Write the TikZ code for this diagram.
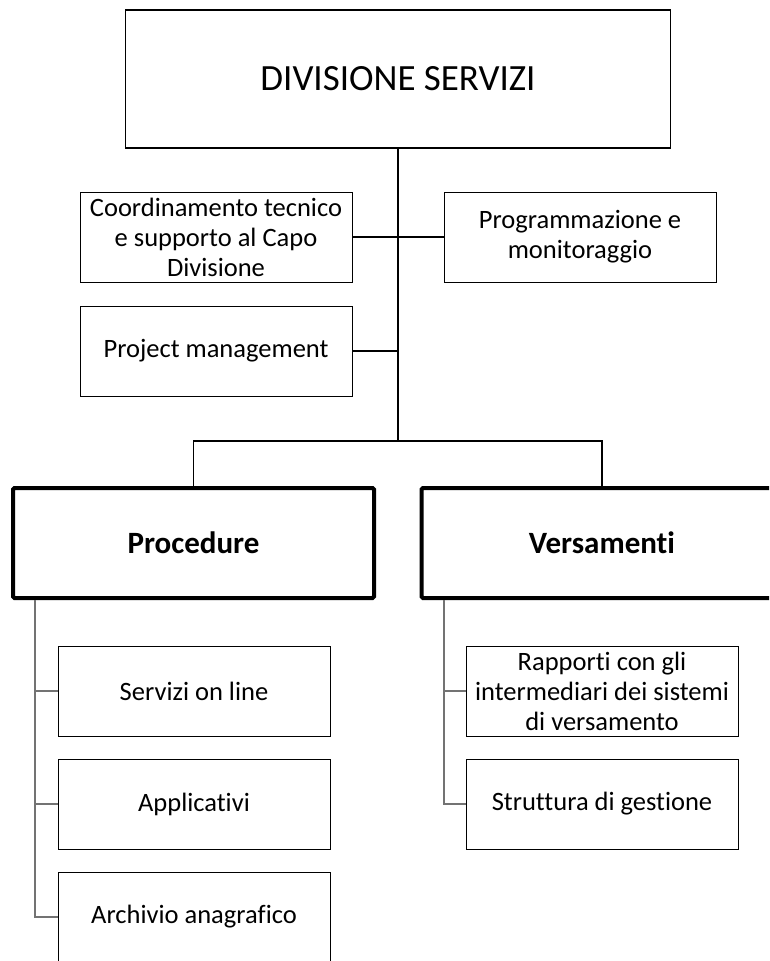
\documentclass[tikz,border=0pt]{standalone}
\usepackage{fontspec}
\setmainfont{Carlito}[Ligatures=NoCommon]
\begin{document}
\begin{tikzpicture}[x=1pt,y=-1pt,
  box/.style={draw=black,line width=1pt,minimum width=272pt,minimum height=90pt,inner sep=0pt,align=center,font=\fontsize{26.5}{30}\selectfont},
  bigbox/.style={draw=black,line width=4pt,rounded corners=1.5pt,minimum width=361pt,minimum height=110pt,font=\fontsize{31}{36}\selectfont\bfseries},
  conn/.style={draw=black,line width=1.2pt},
  gconn/.style={draw=black!55,line width=1.5pt}]
\clip (0,0) rectangle (769,961);
\fill[white] (0,0) rectangle (769,961);
% top
\node[draw=black,line width=1.3pt,minimum width=545pt,minimum height=138pt,font=\fontsize{37}{44}\selectfont] (top) at (398,79) {DIVISIONE SERVIZI};
\node[box] (coord) at (216,237) {Coordinamento tecnico\\e supporto al Capo\\Divisione};
\node[box] (prog) at (580,237) {Programmazione e\\monitoraggio};
\node[box] (pm) at (216,351) {Project management};
\node[bigbox] (proc) at (193.5,543) {Procedure};
\node[bigbox] (vers) at (602,543) {Versamenti};
\node[box] (serv) at (194,691) {Servizi on line};
\node[box] (appl) at (194,804) {Applicativi};
\node[box] (arch) at (194,917) {Archivio anagrafico};
\node[box] (rapp) at (602,691) {Rapporti con gli\\intermediari dei sistemi\\di versamento};
\node[box] (strut) at (602,804) {Struttura di gestione};
% connectors
\coordinate (bus) at (top.south |- 0,441);
\draw[conn] (top.south) -- (bus);
\draw[conn] (coord.east) -- (prog.west);
\draw[conn] (pm.east) -- (pm.east -| top.south);
\draw[conn] (proc.north) |- (bus) -| (vers.north);
\coordinate (pspine) at (35,0);
\draw[gconn] (proc.south -| pspine) |- (arch.west);
\draw[gconn] (serv.west) -- (serv.west -| pspine);
\draw[gconn] (appl.west) -- (appl.west -| pspine);
\coordinate (vspine) at (444,0);
\draw[gconn] (vers.south -| vspine) |- (strut.west);
\draw[gconn] (rapp.west) -- (rapp.west -| vspine);
\end{tikzpicture}
\end{document}
